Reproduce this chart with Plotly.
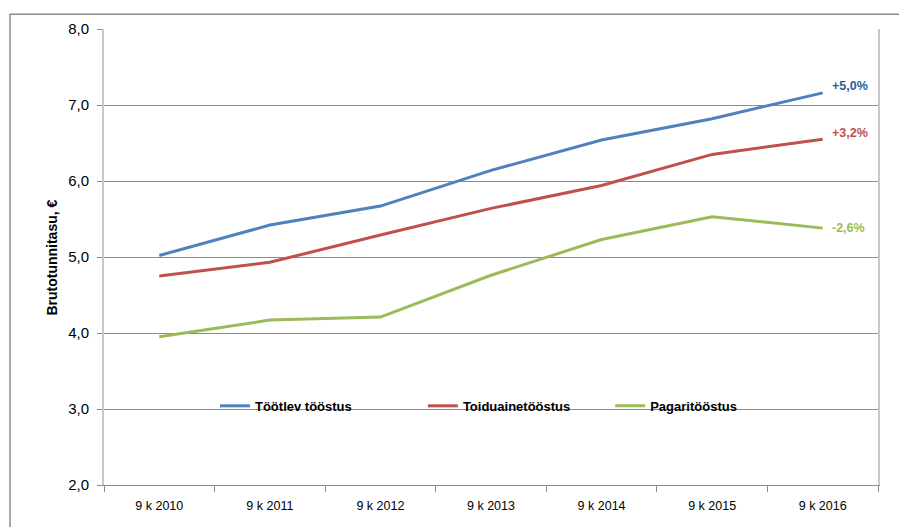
import plotly.graph_objects as go

categories = ["9 k 2010", "9 k 2011", "9 k 2012", "9 k 2013", "9 k 2014", "9 k 2015", "9 k 2016"]
tootlev = [5.02, 5.42, 5.67, 6.14, 6.54, 6.82, 7.16]
toiduaine = [4.75, 4.93, 5.29, 5.64, 5.94, 6.35, 6.55]
pagari = [3.95, 4.17, 4.21, 4.76, 5.23, 5.53, 5.38]
series_names = ["Töötlev tööstus", "Toiduainetööstus", "Pagaritööstus"]
colors = ["#4f81bd", "#c0504d", "#9bbb59"]
label_colors = ["#2c5d96", "#c0504d", "#9bbb59"]
end_labels = ["+5,0%", "+3,2%", "-2,6%"]
y_ticks = [2, 3, 4, 5, 6, 7, 8]
y_ticktext = ["2,0", "3,0", "4,0", "5,0", "6,0", "7,0", "8,0"]

SANS = "Liberation Sans, Arial, sans-serif"

legend_ids = ["legend", "legend2", "legend3"]
legend_x = [0.1434, 0.412, 0.654]

fig = go.Figure()
for name, vals, c, lid in zip(series_names, [tootlev, toiduaine, pagari], colors, legend_ids):
    fig.add_trace(go.Scatter(x=categories, y=vals, mode="lines", name=name,
                             line=dict(color=c, width=3), legend=lid))

for vals, lab, lc, ys in zip([tootlev, toiduaine, pagari], end_labels, label_colors, [7, 6, 0]):
    fig.add_annotation(x=categories[-1], y=vals[-1], text="<b>" + lab + "</b>", showarrow=False,
                       xanchor="left", xshift=7, yshift=ys,
                       font=dict(family=SANS, size=12.5, color=lc))

fig.add_annotation(xref="paper", yref="paper", x=-0.067, y=0.499, text="<b>Brutotunnitasu, €</b>",
                   textangle=-90, showarrow=False, xanchor="center", yanchor="middle",
                   font=dict(family=SANS, size=14, color="#000"))

# white legend background covering gridlines
fig.add_shape(type="rect", xref="paper", yref="paper", x0=0.0827, x1=0.938, y0=0.13, y1=0.206,
              fillcolor="white", line=dict(width=0), layer="between")
# outer chart border
fig.add_shape(type="rect", xref="paper", yref="paper", x0=-0.1214, x1=2, y0=-1, y1=1.0325,
              fillcolor="rgba(0,0,0,0)", line=dict(color="#8c8c8c", width=1.5), layer="above")

legends = {}
for lid, lx in zip(legend_ids, legend_x):
    legends[lid] = dict(orientation="h", x=lx, y=0.1735, xanchor="left", yanchor="middle",
                        bgcolor="rgba(0,0,0,0)",
                        font=dict(family=SANS, size=13, color="#000", weight="bold"))

fig.update_layout(
    width=907, height=527,
    margin=dict(l=96, r=37, t=16, b=50),
    paper_bgcolor="white", plot_bgcolor="white",
    font=dict(family=SANS, size=13, color="#000000"),
    showlegend=True,
    **legends,
)
fig.update_xaxes(type="category", tickson="boundaries", ticks="outside", ticklen=6,
                 tickcolor="#8c8c8c", showgrid=False, showline=True, linecolor="#8c8c8c",
                 linewidth=1, tickfont=dict(family=SANS, size=12.5, color="#000"),
                 ticklabelstandoff=9, range=[-0.5, 6.5])
fig.update_yaxes(range=[2, 8], tickvals=y_ticks, ticktext=y_ticktext, ticks="outside", ticklen=5,
                 tickcolor="#8c8c8c", showgrid=True, gridcolor="#8c8c8c", gridwidth=1,
                 showline=True, linecolor="#c8c8c8", linewidth=2, mirror=True, zeroline=False,
                 tickfont=dict(family=SANS, size=15, color="#000"), ticklabelstandoff=5)

fig.write_html("out.html")
